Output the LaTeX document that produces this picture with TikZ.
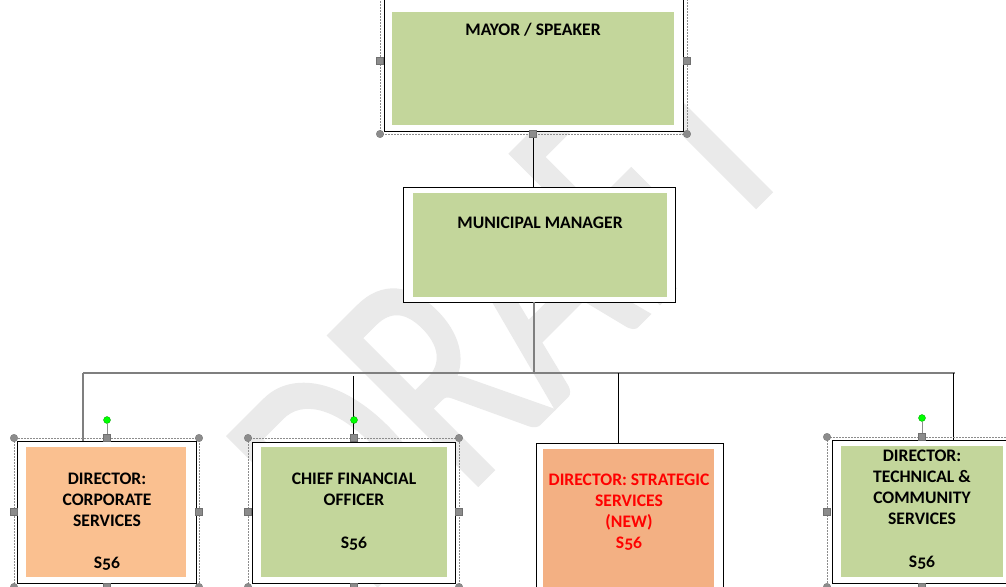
\documentclass[tikz,border=0pt]{standalone}
\usepackage{fontspec}
\setmainfont{Carlito}[Numbers=OldStyle]
\newfontfamily\wmfont{Carlito}[FakeBold=1.5]
\definecolor{boxgreen}{HTML}{C3D69B}
\definecolor{boxorange}{HTML}{FAC090}
\definecolor{boxorange2}{HTML}{F3B083}
\definecolor{wmgray}{HTML}{EAEAEA}
\definecolor{hgray}{HTML}{8C8C8C}
\definecolor{linegray}{HTML}{7F7F7F}
\begin{document}
\begin{tikzpicture}[x=1pt,y=-1pt,
  outerbox/.style={draw=black, line width=1pt, fill=white, inner sep=0pt, outer sep=0pt},
  fillgreen/.style={fill=boxgreen, draw=none, inner sep=0pt, outer sep=0pt},
  fillorange/.style={fill=boxorange, draw=none, inner sep=0pt, outer sep=0pt},
  fillorangeb/.style={fill=boxorange2, draw=none, inner sep=0pt, outer sep=0pt},
  boxtext/.style={font=\bfseries\fontsize{17.6}{21}\selectfont, align=center, inner sep=0pt, text=black},
  redtext/.style={boxtext, text=red},
  handsq/.style={rectangle, fill=hgray, draw=hgray!80!black, line width=0.3pt, minimum size=7pt, inner sep=0pt},
  handci/.style={circle, fill=hgray, draw=hgray!80!black, line width=0.3pt, minimum size=7.5pt, inner sep=0pt},
  greendot/.style={circle, fill=green, draw=green!60!black, line width=0.3pt, minimum size=7pt, inner sep=0pt},
  selframe/.style={draw=hgray, line width=0.7pt, dash pattern=on 2pt off 1pt},
  conn/.style={draw=black, line width=1pt},
  conngray/.style={draw=linegray, line width=1.6pt},
  hstem/.style={draw=hgray, line width=1pt}
]
\useasboundingbox (0,0) rectangle (1006,586);
\clip (0,0) rectangle (1006,586);
\fill[white] (0,0) rectangle (1006,586);

% watermark
\node[text=wmgray, font=\wmfont\fontsize{230}{230}\selectfont, anchor=base west, rotate=45, yscale=1.42, inner sep=0pt] (wm) at (366,596) {DRAFT};

% boxes (outer frames)
\node[outerbox, minimum width=299pt, minimum height=151pt] (mayor) at (533.5,55.5) {};
\node[fillgreen, minimum width=282pt, minimum height=113pt] (mayorf) at (533,68.5) {};
\node[boxtext] (mayort) at (533,30) {MAYOR / SPEAKER};

\node[outerbox, minimum width=272pt, minimum height=115pt] (mm) at (539,244.5) {};
\node[fillgreen, minimum width=254pt, minimum height=104pt] (mmf) at (540,245) {};
\node[boxtext] (mmt) at (540,223) {MUNICIPAL MANAGER};

\node[outerbox, minimum width=179pt, minimum height=142pt] (corp) at (106.5,512) {};
\node[fillorange, minimum width=160pt, minimum height=130pt] (corpf) at (106,512) {};
\node[boxtext] (corpt) at (107,521.5) {DIRECTOR:\\CORPORATE\\SERVICES\\[21pt]S56};

\node[outerbox, minimum width=203pt, minimum height=141pt] (cfo) at (353.5,512.5) {};
\node[fillgreen, minimum width=186pt, minimum height=130pt] (cfof) at (354,512) {};
\node[boxtext] (cfot) at (354,512) {CHIEF FINANCIAL\\OFFICER\\[22pt]S56};

\node[outerbox, minimum width=187pt, minimum height=157pt] (strat) at (629.5,521.5) {};
\node[fillorangeb, minimum width=171pt, minimum height=145pt] (stratf) at (628.5,521.5) {};
\node[redtext] (stratt) at (629,512.5) {DIRECTOR: STRATEGIC\\SERVICES\\(NEW)\\S56};

\node[outerbox, minimum width=183pt, minimum height=143pt] (tech) at (923.5,511.5) {};
\node[fillgreen, minimum width=162pt, minimum height=131pt] (techf) at (922,511.5) {};
\node[boxtext] (techt) at (922,510) {DIRECTOR:\\TECHNICAL \&\\COMMUNITY\\SERVICES\\[22pt]S56};

% connectors
\coordinate (jn) at (534,373);
\coordinate (hl) at (83,373);
\coordinate (hr) at (955,373);
\coordinate (cfs) at (353,376);
\coordinate (sts) at (618,373);
\coordinate (tcs) at (953,373);
\draw[conn] (mayor.south) -- (mayor.south |- mm.north);
\draw[conngray] (jn |- mm.south) -- (jn);
\draw[conngray] (hl) -- (hr);
\draw[conngray] (hl) -- (hl |- corp.north);
\draw[conn] (cfs) -- (cfs |- cfo.north);
\draw[conn] (sts) -- (sts |- strat.north);
\draw[conn] (tcs) -- (tcs |- tech.north);

% selection frames
\draw[selframe] (380,-5) -- (380,134) -- (687,134) -- (687,-5);
\draw[selframe] (14,438) rectangle (199,592);
\draw[selframe] (248,438) rectangle (459,592);
\draw[selframe] (827,437) -- (1012,437);
\draw[selframe] (827,437) -- (827,592);

% rotation handles
\node[greendot] (g1) at (107,420) {};
\node[greendot] (g2) at (354,420) {};
\node[greendot] (g3) at (922,418) {};
\node[handsq] (c2) at (107,438) {};
\node[handsq] (f2) at (354,438) {};
\node[handsq] (t2) at (922,437) {};
\draw[hstem] (g1) -- (c2);
\draw[hstem] (g3) -- (t2);

% handles: mayor
\node[handsq] (m1) at (380,61) {};
\node[handsq] (m2) at (687,61) {};
\node[handsq] (m3) at (533,134) {};
\node[handci] (m4) at (380,134) {};
\node[handci] (m5) at (687,134) {};
% handles: corporate
\node[handci] (c1) at (14,438) {};
\node[handci] (c3) at (199,438) {};
\node[handsq] (c4) at (14,512) {};
\node[handsq] (c5) at (199,512) {};
\node[handci] (c6) at (14,587) {};
\node[handsq] (c7) at (107,587) {};
\node[handci] (c8) at (199,587) {};
% handles: cfo
\node[handci] (f1) at (248,438) {};
\node[handci] (f3) at (459,438) {};
\node[handsq] (f4) at (248,512) {};
\node[handsq] (f5) at (459,512) {};
\node[handci] (f6) at (248,587) {};
\node[handsq] (f7) at (354,587) {};
\node[handci] (f8) at (459,587) {};
% handles: technical
\node[handci] (t1) at (827,437) {};
\node[handsq] (t4) at (827,512) {};
\node[handci] (t6) at (827,587) {};
\node[handsq] (t7) at (922,587) {};
\end{tikzpicture}
\end{document}
